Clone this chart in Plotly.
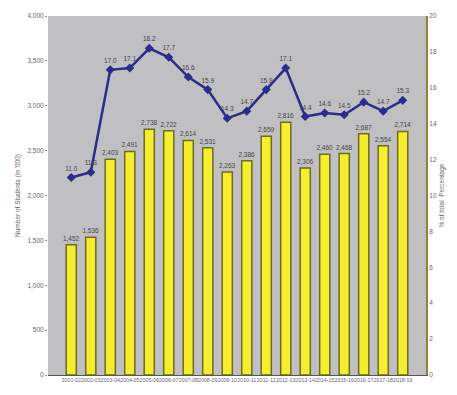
import plotly.graph_objects as go

categories = ["2001-02", "2002-03", "2003-04", "2004-05", "2005-06", "2006-07",
              "2007-08", "2008-09", "2009-10", "2010-11", "2011-12", "2012-13",
              "2013-14", "2014-15", "2015-16", "2016-17", "2017-18", "2018-19"]
counts = [1452, 1536, 2403, 2491, 2738, 2722, 2614, 2531, 2263, 2386, 2659, 2816,
          2306, 2460, 2468, 2687, 2554, 2714]
percent = [11.0, 11.3, 17.0, 17.1, 18.2, 17.7, 16.6, 15.9, 14.3, 14.7, 15.9, 17.1,
           14.4, 14.6, 14.5, 15.2, 14.7, 15.3]

left_ticks = [0, 500, 1000, 1500, 2000, 2500, 3000, 3500, 4000]
right_ticks = [0, 2, 4, 6, 8, 10, 12, 14, 16, 18, 20]

fig = go.Figure()
fig.add_trace(go.Bar(
    x=categories, y=counts,
    marker=dict(color="#F4EE2E", line=dict(color="#6E6A1E", width=1.5)),
    text=[f"{v:,}" for v in counts], textposition="outside",
    constraintext="none",
    textfont=dict(size=6.5, color="#444444"), cliponaxis=False,
    yaxis="y", showlegend=False,
))
fig.add_trace(go.Scatter(
    x=categories, y=percent, mode="lines+markers+text",
    line=dict(color="#2B2C8C", width=2.5),
    marker=dict(symbol="diamond", size=7, color="#2B2C8C"),
    text=[f"{v:.1f}" for v in percent], textposition="top center",
    textfont=dict(size=6.5, color="#444444"),
    yaxis="y2", showlegend=False, cliponaxis=False,
))

fig.update_layout(
    width=457, height=395,
    margin=dict(l=48, r=29, t=13, b=20),
    paper_bgcolor="white", plot_bgcolor="#C0C0C2",
    font=dict(family="Liberation Sans, Arial, sans-serif", size=7, color="#666666"),
    xaxis=dict(type="category", showgrid=False, tickfont=dict(size=5.3), tickangle=0,
               showline=True, linecolor="#555555", linewidth=1,
               ticks=""),
    yaxis=dict(range=[0, 4000], tickvals=left_ticks,
               ticktext=[f"{v:,}" for v in left_ticks], showgrid=False,
               zeroline=False, tickfont=dict(size=6.5),
               ticks="outside", ticklen=2, tickcolor="#999999",
               title=dict(text="Number of Students (in '000)", font=dict(size=6.5), standoff=6)),
    yaxis2=dict(range=[0, 20], tickvals=right_ticks, overlaying="y", side="right",
                showgrid=False, zeroline=False, tickfont=dict(size=6.5),
                showline=True, linecolor="#8A8440", linewidth=2,
                title=dict(text="% of total  Percentage", font=dict(size=6.5), standoff=4)),
    bargap=0.48,
)

fig.write_html("out.html")
